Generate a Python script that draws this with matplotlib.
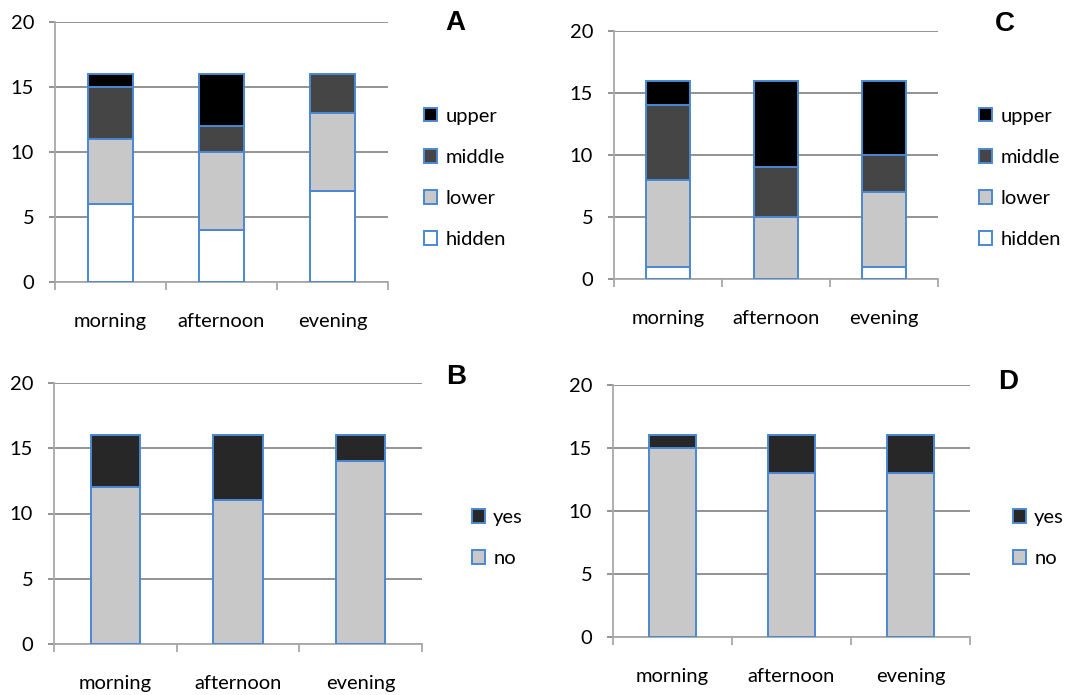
import matplotlib.pyplot as plt
import matplotlib.patches as mpatches
import numpy as np

plt.rcParams['font.family'] = ['Lato', 'DejaVu Sans']

times = ["morning", "afternoon", "evening"]

# panel A: position in water column
a_hidden = [6, 4, 7]
a_lower = [5, 6, 6]
a_middle = [4, 2, 3]
a_upper = [1, 4, 0]

# panel C
c_hidden = [1, 0, 1]
c_lower = [7, 5, 6]
c_middle = [6, 4, 3]
c_upper = [2, 7, 6]

# panel B: yes / no
b_no = [12, 11, 14]
b_yes = [4, 5, 2]

# panel D
d_no = [15, 13, 13]
d_yes = [1, 3, 3]

pos_labels = ["hidden", "lower", "middle", "upper"]
pos_colors = ["white", "#c8c8c8", "#454545", "black"]
yn_labels = ["no", "yes"]
yn_colors = ["#c8c8c8", "#272727"]
edge = "#4a88d4"
W, H = 1083, 695


def px(l, t, r, b):
    return [l / W, 1 - b / H, (r - l) / W, (b - t) / H]


def draw_panel(rect, series, labels, colors, letter, letter_xy, leg_xy, leg_h):
    ax = fig.add_axes(px(*rect))
    x = np.arange(len(times))
    bottom = np.zeros(len(times))
    handles = []
    for vals, lab, col in zip(series, labels, colors):
        ax.bar(x, vals, 0.4, bottom=bottom, color=col, edgecolor=edge, linewidth=1.4, zorder=3)
        bottom += np.array(vals)
        handles.append(mpatches.Patch(facecolor=col, edgecolor=edge, linewidth=1.4, label=lab))
    ax.set_xlim(-0.5, 2.5)
    ax.set_ylim(0, 20)
    ax.set_yticks([0, 5, 10, 15, 20])
    ax.yaxis.grid(True, color="#8a8a8a", linewidth=1.3, zorder=0)
    ax.set_axisbelow(True)
    for s in ["top", "right"]:
        ax.spines[s].set_visible(False)
    for s in ["left", "bottom"]:
        ax.spines[s].set_color("#a8a8a8")
        ax.spines[s].set_linewidth(1.3)
    ax.tick_params(axis="y", length=4, width=1.3, color="#8a8a8a", pad=11, labelsize=14.5)
    ax.set_xticks(x)
    ax.set_xticklabels(times, fontsize=14.5)
    ax.tick_params(axis="x", which="major", length=0, pad=22)
    ax.set_xticks([-0.5, 0.5, 1.5, 2.5], minor=True)
    ax.tick_params(axis="x", which="minor", length=6, width=1.3, color="#a8a8a8")
    fig.text(letter_xy[0] / W, 1 - letter_xy[1] / H, letter, fontsize=20, fontweight="bold",
             family="Liberation Sans", ha="center", va="center")
    fig.legend(handles=handles[::-1], loc="center left",
               bbox_to_anchor=(leg_xy[0] / W, 1 - leg_xy[1] / H),
               frameon=False, fontsize=14.5, handlelength=0.65, handleheight=0.65,
               handletextpad=0.4, labelspacing=leg_h, borderpad=0, borderaxespad=0)
    return ax


fig = plt.figure(figsize=(W / 100, H / 100), dpi=100)

draw_panel((55, 22, 388, 282), [a_hidden, a_lower, a_middle, a_upper], pos_labels, pos_colors,
           "A", (455, 23), (424, 178), 1.2)
draw_panel((614, 31, 938, 279), [c_hidden, c_lower, c_middle, c_upper], pos_labels, pos_colors,
           "C", (1005, 24), (979, 178), 1.2)
draw_panel((54, 383, 422, 644), [b_no, b_yes], yn_labels, yn_colors,
           "B", (456, 377), (472, 538), 1.2)
draw_panel((613, 385, 970, 637), [d_no, d_yes], yn_labels, yn_colors,
           "D", (1008, 382), (1013, 538), 1.2)

fig.savefig("out.png", dpi=100)
